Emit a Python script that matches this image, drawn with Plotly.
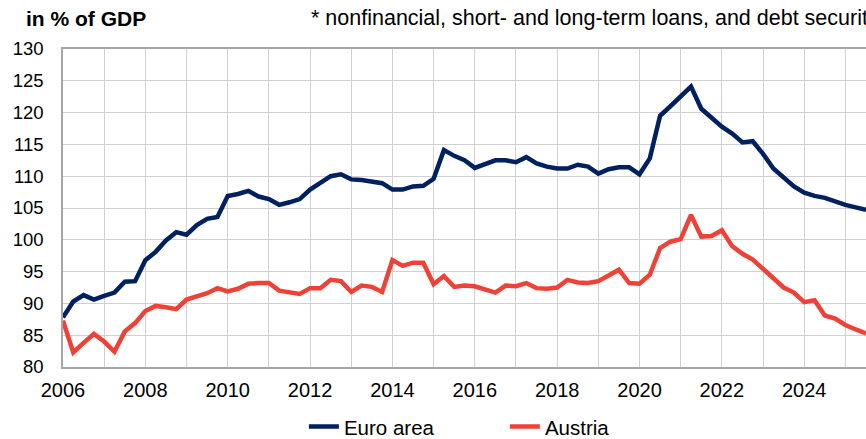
import plotly.graph_objects as go

# Quarterly, 2006Q1 .. 2025Q3
start_year = 2006
n_quarters = 79
quarters = [start_year + i / 4 for i in range(n_quarters)]

euro_area = [
    87.8, 90.3, 91.3, 90.6,
    91.2, 91.7, 93.4, 93.5,
    96.8, 98.1, 99.9, 101.2,
    100.8, 102.3, 103.3, 103.6,
    106.9, 107.2, 107.7, 106.8,
    106.4, 105.5, 105.9, 106.4,
    107.9, 108.9, 110.0, 110.3,
    109.5, 109.4, 109.2, 108.9,
    107.9, 107.9, 108.4, 108.5,
    109.6, 114.1, 113.2, 112.5,
    111.3, 111.9, 112.5, 112.5,
    112.2, 113.0, 112.0, 111.5,
    111.2, 111.2, 111.8, 111.5,
    110.4, 111.1, 111.4, 111.4,
    110.3, 112.8, 119.5, 121.0,
    122.6, 124.1, 120.6, 119.1,
    117.8, 116.7, 115.3, 115.5,
    113.5, 111.2, 109.7, 108.4,
    107.4, 106.9, 106.6, 106.0,
    105.5, 105.1, 104.7,
]

austria = [
    87.3, 82.3, 83.8, 85.2,
    84.0, 82.4, 85.6, 86.9,
    88.8, 89.6, 89.4, 89.1,
    90.6, 91.1, 91.6, 92.4,
    91.9, 92.3, 93.1, 93.2,
    93.2, 92.0, 91.7, 91.5,
    92.4, 92.4, 93.7, 93.5,
    91.8, 92.8, 92.6, 91.8,
    96.8, 95.9, 96.4, 96.4,
    93.0, 94.3, 92.6, 92.8,
    92.7, 92.2, 91.7, 92.8,
    92.7, 93.2, 92.4, 92.3,
    92.5, 93.7, 93.3, 93.2,
    93.5, 94.4, 95.3, 93.2,
    93.1, 94.5, 98.7, 99.7,
    100.1, 103.9, 100.5, 100.6,
    101.5, 99.0, 97.8, 96.9,
    95.5, 93.9, 92.5, 91.7,
    90.2, 90.5, 88.1, 87.6,
    86.6, 85.9, 85.3,
]

year_ticks = list(range(2006, 2026))
year_labels = [str(y) if y % 2 == 0 else "" for y in year_ticks]
y_ticks = list(range(80, 131, 5))

fig = go.Figure()
fig.add_trace(go.Scatter(x=quarters, y=euro_area, mode="lines", name="Euro area",
                         line=dict(color="#002060", width=4.5)))
fig.add_trace(go.Scatter(x=quarters, y=austria, mode="lines", name="Austria",
                         line=dict(color="#ef4136", width=4.5)))

font_family = "Liberation Sans, Arial, sans-serif"

fig.update_layout(
    width=866, height=439,
    margin=dict(l=63, r=0, t=49, b=72, autoexpand=False),
    paper_bgcolor="white", plot_bgcolor="white",
    font=dict(family=font_family, size=19, color="black"),
    showlegend=True,
    legend=dict(orientation="h", x=0.30, xanchor="left",
                yref="container", y=0.028, yanchor="middle",
                font=dict(size=20.5), entrywidth=156, tracegroupgap=0),
    xaxis=dict(range=[2006, 2025.5], tickvals=year_ticks, ticktext=year_labels,
               showgrid=True, gridcolor="#d0d0d0", gridwidth=1.3,
               showline=True, linecolor="#a6a6a6", linewidth=1.5, mirror=True,
               ticks="", ticklabelstandoff=4, zeroline=False,
               tickfont=dict(size=20)),
    yaxis=dict(range=[80, 130], tickvals=y_ticks,
               showgrid=True, gridcolor="#d0d0d0", gridwidth=1.3,
               showline=True, linecolor="#a6a6a6", linewidth=1.5,
               ticks="", ticklabelstandoff=14, zeroline=False,
               tickfont=dict(size=18.5)),
    annotations=[
        dict(text="<b>in % of GDP</b>", xref="paper", yref="paper", x=-0.048, y=1.0,
             yshift=31, xanchor="left", yanchor="middle", showarrow=False,
             font=dict(size=21)),
        dict(text="* nonfinancial, short- and long-term loans, and debt securities", xref="paper", yref="paper",
             x=0.306, y=1.0, yshift=31, xanchor="left", yanchor="middle", showarrow=False,
             font=dict(size=21.5)),
    ],
)

fig.write_html("out.html", config={"displayModeBar": False},
               post_script="document.body.style.margin='0';")
